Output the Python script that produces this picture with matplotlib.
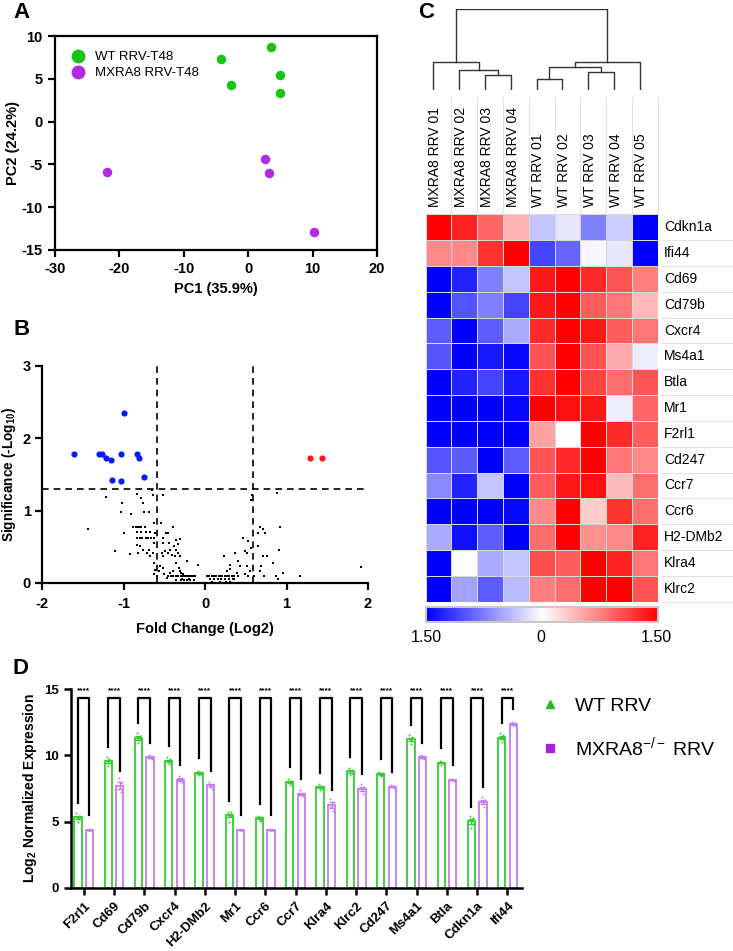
import matplotlib
matplotlib.use('Agg')
import matplotlib.pyplot as plt
import numpy as np
from matplotlib.colors import LinearSegmentedColormap
from matplotlib.lines import Line2D

plt.rcParams['font.family'] = ['Liberation Sans', 'DejaVu Sans']
plt.rcParams['mathtext.fontset'] = 'custom'
plt.rcParams['mathtext.rm'] = 'Liberation Sans'
plt.rcParams['mathtext.bf'] = 'Liberation Sans:bold'
plt.rcParams['mathtext.it'] = 'Liberation Sans:italic'
plt.rcParams['axes.unicode_minus'] = False

# ---- A: PCA
wt_pc1 = [-4.2, 3.6, -2.7, 4.9, 4.9]
wt_pc2 = [7.3, 8.75, 4.3, 5.5, 3.3]
mx_pc1 = [-22.0, 2.6, 3.2, 10.2]
mx_pc2 = [-5.9, -4.4, -6.0, -12.9]

# ---- B: volcano
down_fc = [-1.61, -1.30, -1.26, -1.22, -1.15, -1.03, -1.00, -0.84, -0.81, -1.145, -1.03, -0.75]
down_sig = [1.78, 1.78, 1.78, 1.73, 1.70, 1.78, 2.35, 1.78, 1.73, 1.43, 1.41, 1.46]
up_fc = [1.29, 1.44]
up_sig = [1.73, 1.73]
ns_fc = [-1.44, -1.22, -1.11, -1.03, -1.02, -0.99, -0.92, -0.91, -0.84,
         -0.88, -0.85, -0.83, -0.81, -0.78, -0.74,
         -0.78, -0.76, -0.75, -0.69,
         -0.83, -0.80, -0.77, -0.73, -0.70, -0.66, -0.62,
         -0.83, -0.79, -0.72, -0.68,
         -0.84, -0.82, -0.80, -0.76, -0.71, -0.69, -0.67,
         -0.65, -0.64, -0.52,
         -0.62, -0.61, -0.62, -0.64, -0.62, -0.61, -0.63,
         -0.54, -0.52, -0.51, -0.53, -0.49, -0.52, -0.55, -0.52, -0.50, -0.59,
         -0.48, -0.46, -0.39, -0.44, -0.45, -0.43, -0.41, -0.38, -0.37, -0.36,
         -0.35, -0.33, -0.33, -0.31, -0.31, -0.35, -0.32, -0.31, -0.29, -0.27,
         -0.22, -0.08, -0.39, -0.43, -0.57, -0.47,
         -0.45, -0.42, -0.39, -0.36, -0.33, -0.30, -0.27, -0.25, -0.23, -0.21,
         -0.19, -0.17, -0.15, -0.12,
         -0.35, -0.30, -0.26, -0.22, -0.18, -0.14, -0.28, -0.20,
         0.02, 0.05, 0.08, 0.10, 0.12, 0.14, 0.17, 0.19, 0.21, 0.24, 0.27,
         0.30, 0.33, 0.36, 0.40,
         0.06, 0.11, 0.16, 0.20, 0.25, 0.29, 0.34,
         0.09, 0.18, 0.26, 0.31,
         0.23, 0.31, 0.31, 0.27, 0.37, 0.41, 0.39, 0.47, 0.49, 0.51, 0.52,
         0.53, 0.55, 0.56, 0.57, 0.58, 0.60, 0.53, 0.49,
         0.65, 0.67, 0.71, 0.74, 0.65, 0.71, 0.76, 0.69, 0.73, 0.84, 0.88,
         0.92, 0.91, 0.87, 0.89, 0.96, 1.16, 1.91, 0.67, 0.43, 0.35, 0.41]
ns_sig = [0.74, 1.19, 0.44, 0.98, 1.10, 0.69, 0.40, 0.96, 1.23,
          0.77, 0.77, 0.77, 0.77, 0.77, 0.77,
          1.17, 1.10, 0.98, 0.98,
          0.62, 0.62, 0.62, 0.62, 0.62, 0.62, 0.62,
          0.70, 0.70, 0.70, 0.70,
          0.53, 0.41, 0.51, 0.46, 0.41, 0.45, 0.37,
          1.29, 1.22, 1.22,
          0.83, 0.69, 0.55, 0.41, 0.28, 0.18, 0.12,
          0.83, 0.62, 0.55, 0.41, 0.44, 0.37, 0.23, 0.21, 0.12, 0.09,
          0.69, 0.69, 0.77, 0.55, 0.41, 0.46, 0.39, 0.51, 0.37, 0.60,
          0.46, 0.54, 0.41, 0.61, 0.37, 0.28, 0.21, 0.16, 0.14, 0.12,
          0.30, 0.25, 0.16, 0.14, 0.16, 0.07,
          0.09, 0.09, 0.09, 0.09, 0.09, 0.09, 0.09, 0.09, 0.09, 0.09,
          0.09, 0.09, 0.09, 0.09,
          0.04, 0.04, 0.04, 0.04, 0.04, 0.04, 0.06, 0.06,
          0.09, 0.09, 0.09, 0.09, 0.09, 0.09, 0.09, 0.09, 0.09, 0.09, 0.09,
          0.09, 0.09, 0.09, 0.09,
          0.05, 0.05, 0.05, 0.05, 0.05, 0.05, 0.05,
          0.02, 0.02, 0.02, 0.02,
          0.37, 0.25, 0.19, 0.16, 0.41, 0.31, 0.14, 0.62, 0.44, 0.41, 0.23,
          0.58, 0.16, 0.48, 1.15, 1.21, 0.09, 0.09, 0.12,
          0.69, 0.78, 0.74, 0.69, 0.51, 0.37, 0.37, 0.23, 0.09, 0.28, 1.24,
          0.78, 0.46, 0.09, 0.05, 0.14, 0.09, 0.22, 0.16, 0.23, 0.05, 0.09]

# ---- C: heatmap (z-scores)
samples = ['MXRA8 RRV 01', 'MXRA8 RRV 02', 'MXRA8 RRV 03', 'MXRA8 RRV 04',
           'WT RRV 01', 'WT RRV 02', 'WT RRV 03', 'WT RRV 04', 'WT RRV 05']
heat_genes = ['Cdkn1a', 'Ifi44', 'Cd69', 'Cd79b', 'Cxcr4', 'Ms4a1', 'Btla', 'Mr1',
              'F2rl1', 'Cd247', 'Ccr7', 'Ccr6', 'H2-DMb2', 'Klra4', 'Klrc2']
z_cdkn1a = [1.5, 1.3, 0.9, 0.45, -0.35, -0.15, -0.75, -0.3, -1.5]
z_ifi44 = [0.7, 0.7, 1.2, 1.5, -1.1, -0.9, -0.05, -0.15, -1.5]
z_cd69 = [-1.5, -1.3, -0.75, -0.35, 1.35, 1.5, 1.25, 1.0, 0.75]
z_cd79b = [-1.5, -1.0, -0.75, -1.1, 1.35, 1.5, 0.95, 0.8, 0.4]
z_cxcr4 = [-0.95, -1.5, -0.95, -0.5, 1.25, 1.5, 1.35, 0.95, 0.8]
z_ms4a1 = [-1.0, -1.5, -1.35, -1.45, 1.0, 1.5, 1.0, 0.5, -0.1]
z_btla = [-1.5, -1.3, -1.1, -1.35, 1.2, 1.5, 1.1, 0.85, 1.0]
z_mr1 = [-1.5, -1.5, -1.5, -1.45, 1.5, 1.4, 1.35, -0.1, 0.9]
z_f2rl1 = [-1.5, -1.5, -1.5, -1.5, 0.55, 0.0, 1.5, 1.25, 0.95]
z_cd247 = [-1.0, -0.95, -1.5, -0.95, 1.0, 1.25, 1.5, 0.8, 0.7]
z_ccr7 = [-0.7, -1.3, -0.35, -1.5, 0.95, 1.35, 1.4, 0.4, 0.85]
z_ccr6 = [-1.5, -1.5, -1.5, -1.45, 0.7, 1.5, 0.3, 1.2, 0.85]
z_h2dmb2 = [-0.5, -1.4, -0.95, -1.5, 0.85, 1.5, 0.65, 0.7, 1.3]
z_klra4 = [-1.5, 0.0, -0.5, -0.35, 1.05, 0.95, 1.5, 1.3, 0.8]
z_klrc2 = [-1.5, -0.55, -0.95, -0.4, 0.75, 0.85, 1.5, 1.5, 1.0]
# dendrogram merges (left, right, height); leaves 0-8, new nodes 9..
merges = [(2, 3, 15), (1, 9, 20), (0, 10, 27.7), (4, 5, 10.7), (6, 7, 17.7),
          (12, 13, 23.3), (14, 8, 27.7), (11, 15, 80.7)]

# ---- D: bar chart
genes_d = ['F2rl1', 'Cd69', 'Cd79b', 'Cxcr4', 'H2-DMb2', 'Mr1', 'Ccr6', 'Ccr7',
           'Klra4', 'Klrc2', 'Cd247', 'Ms4a1', 'Btla', 'Cdkn1a', 'Ifi44']
wt_pts = [[5.65, 5.45, 5.35, 5.25, 5.0], [9.9, 9.7, 9.55, 9.45, 9.2],
          [11.65, 11.45, 11.3, 11.2, 10.9], [9.85, 9.7, 9.6, 9.5, 9.35],
          [8.85, 8.75, 8.65, 8.6, 8.5], [5.75, 5.7, 5.5, 5.4, 5.0],
          [5.45, 5.35, 5.25, 5.15, 5.05], [8.2, 8.05, 8.0, 7.9, 7.8],
          [7.85, 7.7, 7.6, 7.5, 7.35], [9.05, 8.9, 8.8, 8.7, 8.5],
          [8.75, 8.65, 8.6, 8.5, 8.45], [11.55, 11.35, 11.2, 11.05, 10.85],
          [9.6, 9.5, 9.45, 9.4, 9.3], [5.45, 5.25, 5.1, 4.8, 4.5],
          [11.7, 11.5, 11.3, 11.2, 11.0]]
mx_pts = [[4.37, 4.37, 4.37, 4.37], [8.3, 7.9, 7.5, 7.2], [10.05, 9.9, 9.8, 9.7],
          [8.45, 8.2, 8.1, 7.95], [8.0, 7.8, 7.7, 7.5], [4.37, 4.37, 4.37, 4.37],
          [4.37, 4.37, 4.37, 4.37], [7.35, 7.1, 7.0, 6.9], [6.7, 6.45, 6.1, 5.8],
          [7.85, 7.6, 7.35, 7.1], [7.75, 7.7, 7.6, 7.55], [10.05, 9.9, 9.8, 9.7],
          [8.2, 8.15, 8.12, 8.1], [6.85, 6.6, 6.4, 6.1], [12.55, 12.45, 12.3, 12.2]]

W, H = 733, 951
fig = plt.figure(figsize=(W / 100, H / 100), dpi=100)


def box(l, t, r, b):
    return [l / W, 1 - b / H, (r - l) / W, (b - t) / H]


green_a = '#19c419'
purple_a = '#b12be6'

# ================= A
ax = fig.add_axes(box(55, 36, 377, 250))
ax.scatter(wt_pc1, wt_pc2, s=34, color=green_a, zorder=3)
ax.scatter(mx_pc1, mx_pc2, s=34, color=purple_a, zorder=3)
ax.set_xlim(-30, 20)
ax.set_ylim(-15, 10)
ax.set_xticks([-30, -20, -10, 0, 10, 20])
ax.set_yticks([10, 5, 0, -5, -10, -15])
for s in ax.spines.values():
    s.set_linewidth(1.6)
ax.tick_params(width=1.6, length=5, labelsize=10.5, pad=4)
for t in ax.get_xticklabels() + ax.get_yticklabels():
    t.set_fontweight('bold')
ax.set_xlabel('PC1 (35.9%)', fontsize=10.5, fontweight='bold', labelpad=4)
ax.set_ylabel('PC2 (24.2%)', fontsize=10.5, fontweight='bold', labelpad=1)
h = [Line2D([], [], ls='', marker='o', ms=9, color=green_a),
     Line2D([], [], ls='', marker='o', ms=9, color=purple_a)]
ax.legend(h, ['WT RRV-T48', 'MXRA8 RRV-T48'], loc='upper left', bbox_to_anchor=(0.015, 0.955),
          frameon=False, fontsize=9.5, handletextpad=0.3, labelspacing=0.3, borderaxespad=0)

# ================= B
ax = fig.add_axes(box(42, 366, 368, 583))
ax.scatter(ns_fc, ns_sig, s=2.5, marker='s', color='black', linewidths=0, zorder=2)
ax.scatter(down_fc, down_sig, s=20, color='#0a1aff', linewidths=0, zorder=3)
ax.scatter(up_fc, up_sig, s=20, color='#ff1a1a', linewidths=0, zorder=3)
for xv in (-0.585, 0.585):
    ax.axvline(xv, color='black', lw=1.2, dashes=(4, 3))
ax.axhline(1.301, color='black', lw=1.2, dashes=(4, 3))
ax.set_xlim(-2, 2)
ax.set_ylim(0, 3)
ax.set_xticks([-2, -1, 0, 1, 2])
ax.set_yticks([0, 1, 2, 3])
ax.spines['top'].set_visible(False)
ax.spines['right'].set_visible(False)
for s in ax.spines.values():
    s.set_linewidth(1.6)
ax.tick_params(width=1.6, length=5, labelsize=10.5)
ax.tick_params(axis='x', pad=5)
ax.tick_params(axis='y', pad=3)
for t in ax.get_xticklabels() + ax.get_yticklabels():
    t.set_fontweight('bold')
ax.set_xlabel('Fold Change (Log2)', fontsize=10.5, fontweight='bold', labelpad=8)
ax.set_ylabel(r'Significance (-Log$_{\mathbf{10}}$)', fontsize=9.8, fontweight='bold', labelpad=3)

# ================= C
Z = np.array([z_cdkn1a, z_ifi44, z_cd69, z_cd79b, z_cxcr4, z_ms4a1, z_btla, z_mr1,
              z_f2rl1, z_cd247, z_ccr7, z_ccr6, z_h2dmb2, z_klra4, z_klrc2])
cmap = LinearSegmentedColormap.from_list('bwr2', ['#0000ff', '#ffffff', '#ff0000'])
hl, ht, hr, hb = 425.7, 214.3, 657.7, 601.7
ax = fig.add_axes(box(hl, ht, hr, hb))
ax.pcolormesh(Z, cmap=cmap, vmin=-1.5, vmax=1.5, edgecolors='#d8d8d8', linewidth=0.4)
ax.set_xlim(0, len(samples))
ax.set_ylim(len(heat_genes), 0)
ax.set_axis_off()

cw = (hr - hl) / len(samples)
rh = (hb - ht) / len(heat_genes)
for i, name in enumerate(samples):
    fig.text((hl + cw * (i + 0.37)) / W, 1 - 207 / H, name, rotation=90,
             ha='center', va='bottom', fontsize=10)
for k in range(1, len(samples) + 1):
    xk = (hl + cw * k) / W
    fig.add_artist(Line2D([xk, xk], [1 - 213 / H, 1 - 97 / H], color='#e2e2e2', lw=0.8))
for j, g in enumerate(heat_genes):
    fig.text(664 / W, 1 - (ht + rh * (j + 0.5)) / H, g, ha='left', va='center', fontsize=10)
for k in range(1, len(heat_genes) + 1):
    yk = 1 - (ht + rh * k) / H
    fig.add_artist(Line2D([662 / W, 733 / W], [yk, yk], color='#e2e2e2', lw=0.8))

# dendrogram
ax = fig.add_axes(box(hl, 9, hr, 90))
pos = {i: i + 0.3 for i in range(len(samples))}
hgt = {i: 0.0 for i in range(len(samples))}
for n, (a, b, hh) in enumerate(merges):
    node = len(samples) + n
    ax.plot([pos[a], pos[a], pos[b], pos[b]], [hgt[a], hh, hh, hgt[b]], color='#333333', lw=1)
    pos[node] = (pos[a] + pos[b]) / 2
    hgt[node] = hh
ax.set_xlim(0, len(samples))
ax.set_ylim(0, 81)
ax.set_axis_off()

# colour bar
ax = fig.add_axes(box(hl, 606.7, hr, 622))
ax.imshow(np.linspace(-1.5, 1.5, 256)[None, :], aspect='auto', cmap=cmap, vmin=-1.5, vmax=1.5)
ax.set_xticks([])
ax.set_yticks([])
for s in ax.spines.values():
    s.set_color('#c8c8c8')
    s.set_linewidth(1.5)
for xv, lab in ((426.7, '1.50'), (541, '0'), (656, '1.50')):
    fig.text(xv / W, 1 - 638 / H, lab, ha='center', va='center', fontsize=11.5)

# ================= D
green_d = '#33cc33'
purple_d = '#c77cf0'
ax = fig.add_axes(box(71, 689, 521.7, 888))
x = np.arange(len(genes_d))
off = 0.19
wt_mean = np.array([np.mean(p) for p in wt_pts])
mx_mean = np.array([np.mean(p) for p in mx_pts])
wt_sem = np.array([np.std(p, ddof=1) / np.sqrt(len(p)) for p in wt_pts])
mx_sem = np.array([np.std(p, ddof=1) / np.sqrt(len(p)) for p in mx_pts])
ax.bar(x - off, wt_mean, width=0.24, facecolor='white', edgecolor=green_d, linewidth=1.3, zorder=2)
ax.bar(x + off, mx_mean, width=0.24, facecolor='white', edgecolor=purple_d, linewidth=1.3, zorder=2)
ax.errorbar(x - off, wt_mean, yerr=wt_sem, fmt='none', ecolor=green_d, elinewidth=1, capsize=2.5, zorder=3)
ax.errorbar(x + off, mx_mean, yerr=mx_sem, fmt='none', ecolor=purple_d, elinewidth=1, capsize=2.5, zorder=3)
jit_wt = [-0.05, 0.04, -0.02, 0.05, 0.0]
jit_mx = [-0.04, 0.03, -0.01, 0.05]
for i in range(len(genes_d)):
    ax.scatter(x[i] - off + np.array(jit_wt), wt_pts[i], s=2, color=green_d, linewidths=0, zorder=4)
    ax.scatter(x[i] + off + np.array(jit_mx), mx_pts[i], s=2, color=purple_d, linewidths=0, zorder=4)
    ax.plot([x[i] - off, x[i] - off, x[i] + off, x[i] + off],
            [wt_mean[i] + 1.1, 14.3, 14.3, mx_mean[i] + 1.1], color='black', lw=1.6, zorder=3)
    ax.text(x[i], 14.9, '****', ha='center', va='center', fontsize=6, fontweight='bold', clip_on=False)
ax.set_xlim(-0.42, 14.47)
ax.set_ylim(0, 15)
ax.set_yticks([0, 5, 10, 15])
ax.set_xticks(x)
ax.set_xticklabels(genes_d, rotation=45, ha='right', rotation_mode='anchor', fontsize=9.5, fontweight='bold')
for t in ax.get_yticklabels():
    t.set_fontweight('bold')
ax.spines['top'].set_visible(False)
ax.spines['right'].set_visible(False)
for s in ax.spines.values():
    s.set_linewidth(1.8)
ax.tick_params(width=1.8, length=5, labelsize=9.5)
ax.set_ylabel(r'Log$_{\mathbf{2}}$ Normalized Expression', fontsize=10, fontweight='bold', labelpad=4)

h = [Line2D([], [], ls='', marker='^', ms=6, color='#22bb22'),
     Line2D([], [], ls='', marker='s', ms=5.5, color='#a622dd')]
fig.legend(h, ['WT RRV', 'MXRA8$^{-/-}$ RRV'], loc='upper left', bbox_to_anchor=(540 / W, 1 - 697 / H),
           frameon=False, fontsize=14, handlelength=1.0, handletextpad=0.8, labelspacing=1.05,
           borderaxespad=0, borderpad=0)

# panel letters
for lab, xv, yv in (('A', 22, 13), ('B', 22, 329), ('C', 426, 13), ('D', 21, 668)):
    fig.text(xv / W, 1 - yv / H, lab, fontsize=16, fontweight='bold', ha='center', va='center')

fig.savefig('out.png', dpi=100)
